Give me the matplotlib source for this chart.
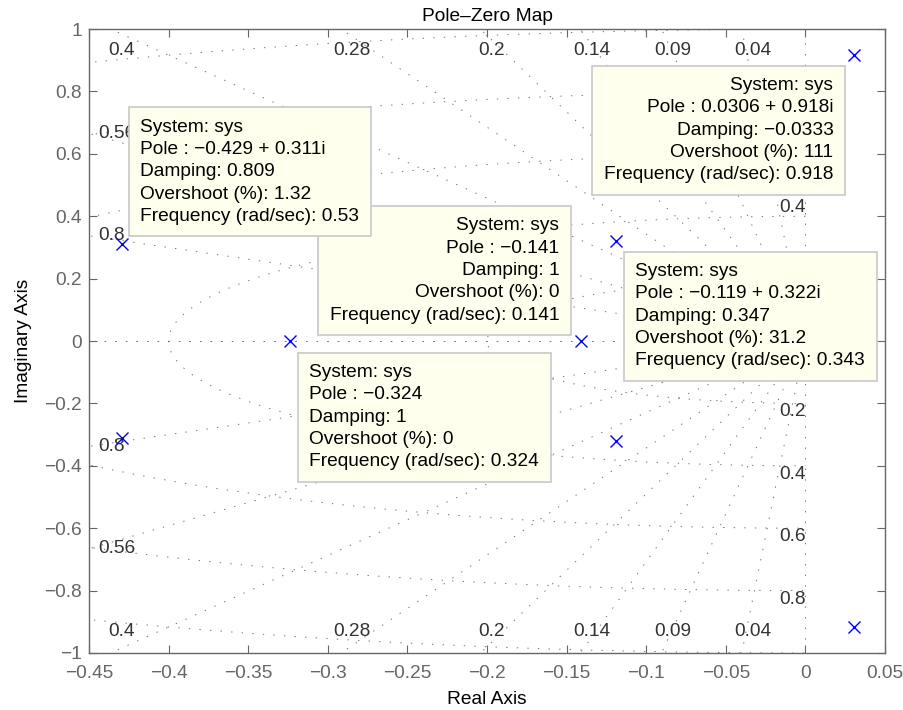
import matplotlib.pyplot as plt
import numpy as np

plt.rcParams['font.family'] = ['Liberation Sans', 'DejaVu Sans']

# closed-loop poles of sys
pole_re = [-0.429, -0.429, -0.324, -0.141, -0.119, -0.119, 0.0306, 0.0306]
pole_im = [0.311, -0.311, 0.0, 0.0, 0.322, -0.322, 0.918, -0.918]

# sgrid: damping ratios and natural frequencies
zetas = [0.04, 0.09, 0.14, 0.2, 0.28, 0.4, 0.56, 0.8]
wns = [0.2, 0.4, 0.6, 0.8, 1.0]

# data tips: (text, x, y, alignment, stacking order)
tips = [
    ("System: sys\nPole : \u22120.429 + 0.311i\nDamping: 0.809\nOvershoot (%): 1.32\nFrequency (rad/sec): 0.53",
     -0.4177, 0.713, 'left', 6),
    ("System: sys\nPole : 0.0306 + 0.918i\nDamping: \u22120.0333\nOvershoot (%): 111\nFrequency (rad/sec): 0.918",
     0.0176, 0.846, 'right', 5),
    ("System: sys\nPole : \u22120.141\nDamping: 1\nOvershoot (%): 0\nFrequency (rad/sec): 0.141",
     -0.1545, 0.397, 'right', 5),
    ("System: sys\nPole : \u22120.119 + 0.322i\nDamping: 0.347\nOvershoot (%): 31.2\nFrequency (rad/sec): 0.343",
     -0.1068, 0.250, 'left', 5),
    ("System: sys\nPole : \u22120.324\nDamping: 1\nOvershoot (%): 0\nFrequency (rad/sec): 0.324",
     -0.3116, -0.074, 'left', 5),
]

xmin, xmax = -0.45, 0.05
ymin, ymax = -1.0, 1.0
FS = 13.8


def fmt(v):
    s = '%g' % (0.0 if abs(v) < 1e-9 else v)
    return s.replace('-', '\u2212')


fig = plt.figure(figsize=(9.04, 7.10), dpi=100)
ax = fig.add_axes([0.0985, 0.0803, 0.8805, 0.8787])

grid_kw = dict(color='0.45', lw=0.7, linestyle=(0, (1.4, 9.5)), zorder=1)

# constant damping rays
for z in [0.0] + zetas + [1.0]:
    th = np.arccos(z)
    r = np.array([0, 2.0])
    ax.plot(-r * np.cos(th), r * np.sin(th), **grid_kw)
    ax.plot(-r * np.cos(th), -r * np.sin(th), **grid_kw)

# constant natural frequency semicircles
t = np.linspace(np.pi / 2, 3 * np.pi / 2, 300)
for wn in wns:
    ax.plot(wn * np.cos(t), wn * np.sin(t), **grid_kw)

lbl_kw = dict(fontsize=FS, color='0.2', clip_on=True, zorder=2)

# damping labels at the plot edge
for z in zetas:
    s = np.sqrt(1 - z ** 2) / z
    xi = -1.0 / s
    lbl = '%g' % z
    if xi >= xmin:
        ax.text(xi + 0.007, 0.93, lbl, ha='center', va='center', **lbl_kw)
        ax.text(xi + 0.007, -0.93, lbl, ha='center', va='center', **lbl_kw)
    else:
        yi = -xmin * s
        ax.text(xmin + 0.006, yi, lbl, ha='left', va='center', **lbl_kw)
        ax.text(xmin + 0.006, -yi, lbl, ha='left', va='center', **lbl_kw)

# frequency labels on the imaginary axis
for wn in wns:
    ax.text(0, wn, '%g' % wn, ha='right', va='bottom', **lbl_kw)
    ax.text(0, -wn, '%g' % wn, ha='right', va='top', **lbl_kw)

ax.plot(pole_re, pole_im, 'x', color='#0000ff', ms=9, mew=1.0, zorder=3)

for txt, x, y, al, zo in tips:
    ax.text(x, y, txt, ha=al, va='top', multialignment=al, fontsize=FS,
            linespacing=1.41, zorder=zo,
            bbox=dict(boxstyle='square,pad=0.6', fc='#ffffee', ec='#c8c8c8', lw=1.2))

xt = np.arange(-0.45, 0.051, 0.05)
yt = np.arange(-1, 1.01, 0.2)
ax.set_xlim(xmin, xmax)
ax.set_ylim(ymin, ymax)
ax.set_xticks(xt)
ax.set_yticks(yt)
ax.set_xticklabels([fmt(round(v, 2)) for v in xt])
ax.set_yticklabels([fmt(round(v, 1)) for v in yt])
ax.tick_params(direction='in', length=6, width=0.8, top=True, right=True,
               labelsize=FS, colors='0.4', pad=5)
ax.tick_params(axis='x', pad=9)
for sp in ax.spines.values():
    sp.set_color('0.4')
    sp.set_linewidth(1.0)

ax.set_title('Pole\u2013Zero Map', fontsize=FS, pad=6)
ax.set_xlabel('Real Axis', fontsize=FS, labelpad=6)
ax.set_ylabel('Imaginary Axis', fontsize=FS, labelpad=9)

fig.savefig('out.png', dpi=100)
